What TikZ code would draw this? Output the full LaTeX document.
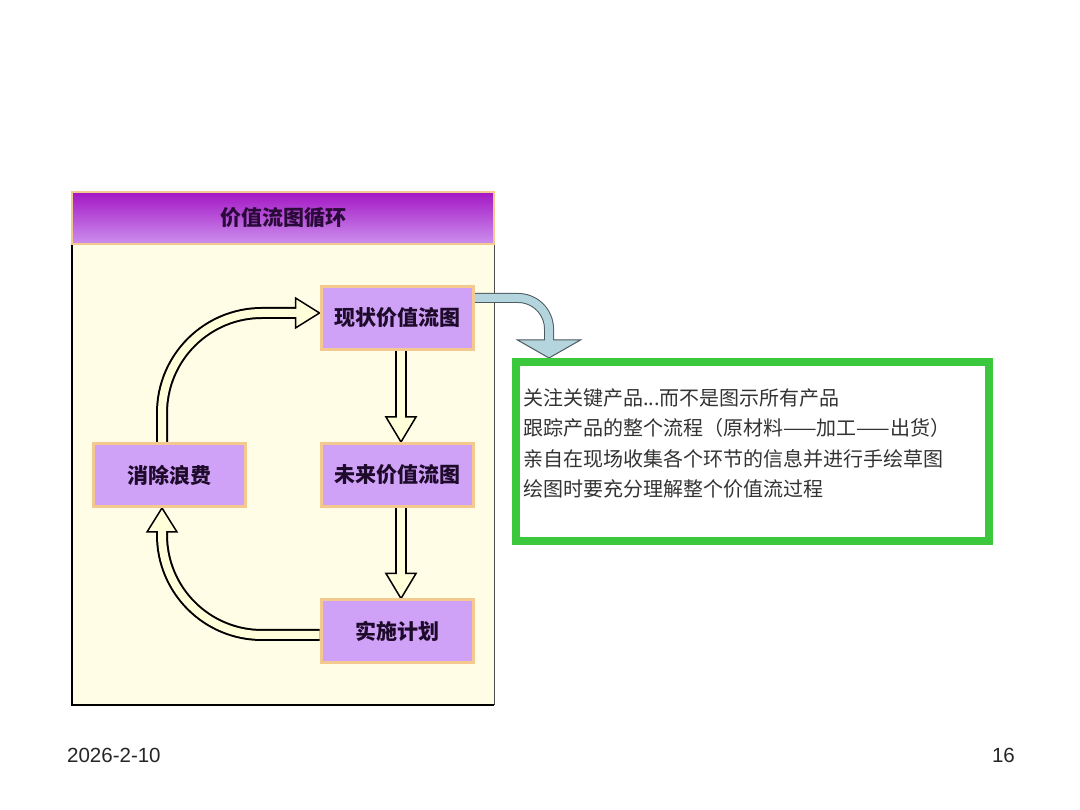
\documentclass[tikz,border=0pt]{standalone}
\usepackage{fontspec}
\setmainfont{Liberation Sans}
\newfontfamily\cjk{Noto Sans CJK SC}
\usetikzlibrary{calc}
\pgfdeclarelayer{back}
\pgfdeclarelayer{mid}
\pgfsetlayers{back,mid,main}
\definecolor{panelbg}{HTML}{FFFDE6}
\definecolor{creamarrow}{HTML}{FFFFD9}
\definecolor{boxfill}{HTML}{CFA2F7}
\definecolor{boxborder}{HTML}{F3C98F}
\definecolor{hdtop}{HTML}{A416C4}
\definecolor{hdbottom}{HTML}{CC90EE}
\definecolor{hdtext}{HTML}{2A0A38}
\definecolor{boxtext}{HTML}{1E0A2A}
\definecolor{gboxgreen}{HTML}{3CC83C}
\definecolor{bluefill}{HTML}{B5D5DE}
\definecolor{blueline}{HTML}{4A5A60}
\definecolor{textgray}{HTML}{333333}
\begin{document}
\begin{tikzpicture}[x=1pt,y=1pt,
  header/.style={top color=hdtop, bottom color=hdbottom, draw=boxborder, line width=2.5pt,
    minimum width=422pt, minimum height=52pt, inner sep=0pt,
    font=\cjk\bfseries\fontsize{21}{21}\selectfont, text=hdtext},
  box/.style={fill=boxfill, draw=boxborder, line width=3pt, minimum width=152pt,
    minimum height=63pt, inner sep=0pt, font=\cjk\bfseries\fontsize{21}{21}\selectfont, text=boxtext},
  gbox/.style={fill=white, draw=gboxgreen, line width=8pt, minimum width=473pt, minimum height=179pt},
  gtext/.style={font=\cjk\fontsize{20}{30.5}\selectfont, text=textgray, align=left, inner sep=0pt},
  foot/.style={font=\fontsize{20.5}{20.5}\selectfont, text=black!85, inner sep=0pt},
  yout/.style={line width=12pt, draw=black},
  yin/.style={line width=8pt, draw=creamarrow},
  yhead/.style={fill=creamarrow, draw=black, line width=1.5pt, line join=miter},
  bout/.style={line width=10pt, draw=blueline},
  bin/.style={line width=8pt, draw=bluefill},
  bhead/.style={fill=bluefill, draw=blueline, line width=1pt, line join=miter}]
\useasboundingbox (0,0) rectangle (1080,810);

\begin{pgfonlayer}{back}
  \fill[white] (0,0) rectangle (1080,810);
  \fill[panelbg] (72,105) rectangle (494,618);
  \draw[black, line width=2pt] (72,618) -- (72,105) -- (494,105);
  \draw[black!70, line width=1pt] (494,105) -- (494,618);
\end{pgfonlayer}

\node[header] (hd) at (283,592) {价值流图循环};

\node[box] (xz) at (397,492) {现状价值流图};
\node[box] (wl) at (397,335) {未来价值流图};
\node[box] (xc) at (169.5,335) {消除浪费};
\node[box] (ss) at (397,178.5) {实施计划};

\node[gbox] (gb) at (752.5,358.5) {};
\node[gtext, anchor=base west] (gt) at (523,313) {关注关键产品...而不是图示所有产品\\跟踪产品的整个流程（原材料——加工——出货）\\亲自在现场收集各个环节的信息并进行手绘草图\\绘图时要充分理解整个价值流过程};

\node[foot, anchor=base west] (date) at (67,47) {2026-2-10};
\node[foot, anchor=base east] (page) at (1015,47) {16};

\begin{pgfonlayer}{mid}
  % xz -> wl
  \draw[yout] ($(xz.south)+(4,0)$) -- ($(wl.north)+(4,25)$);
  \filldraw[yhead] ($(wl.north)+(4,0)$) -- ++(15,25) -- ++(-30,0) -- cycle;
  \draw[yin] ($(xz.south)+(4,0)$) -- ($(wl.north)+(4,23)$);
  % wl -> ss
  \draw[yout] ($(wl.south)+(4,0)$) -- ($(ss.north)+(4,25)$);
  \filldraw[yhead] ($(ss.north)+(4,0)$) -- ++(15,25) -- ++(-30,0) -- cycle;
  \draw[yin] ($(wl.south)+(4,0)$) -- ($(ss.north)+(4,23)$);
  % xc -> xz
  \coordinate (t1) at ($(xc.north)+(-7.5,0)$);
  \coordinate (t3) at ($(xz.west)+(-24,5)$);
  \draw[yout] (t1) -- ($(t1 |- t3)+(0,-100)$) arc[start angle=180,end angle=90,radius=100] -- (t3);
  \filldraw[yhead] ($(xz.west)+(0,5)$) -- ++(-24,15) -- ++(0,-30) -- cycle;
  \draw[yin] (t1) -- ($(t1 |- t3)+(0,-100)$) arc[start angle=180,end angle=90,radius=100] -- ($(t3)+(2,0)$);
  % ss -> xc
  \coordinate (b1) at ($(ss.west)+(0,-3.5)$);
  \coordinate (b3) at ($(xc.south)+(-7.5,-24)$);
  \draw[yout] (b1) -- ($(b3 |- b1)+(100,0)$) arc[start angle=270,end angle=180,radius=100] -- (b3);
  \filldraw[yhead] ($(xc.south)+(-7.5,0)$) -- ++(15,-24) -- ++(-30,0) -- cycle;
  \draw[yin] (b1) -- ($(b3 |- b1)+(100,0)$) arc[start angle=270,end angle=180,radius=100] -- ($(b3)+(0,2)$);
  % xz -> gb (blue)
  \coordinate (a1) at ($(xz.east)+(0,20)$);
  \coordinate (tip) at ($(gb.north west)+(37,0)$);
  \coordinate (a3) at ($(tip)+(0,18)$);
  \draw[bout] (a1) -- ($(a3 |- a1)+(-31,0)$) arc[start angle=90,end angle=0,radius=31] -- (a3);
  \filldraw[bhead] (tip) -- ++(31.5,18) -- ++(-63,0) -- cycle;
  \draw[bin] (a1) -- ($(a3 |- a1)+(-31,0)$) arc[start angle=90,end angle=0,radius=31] -- ($(a3)+(0,-1.5)$);
\end{pgfonlayer}
\end{tikzpicture}
\end{document}
